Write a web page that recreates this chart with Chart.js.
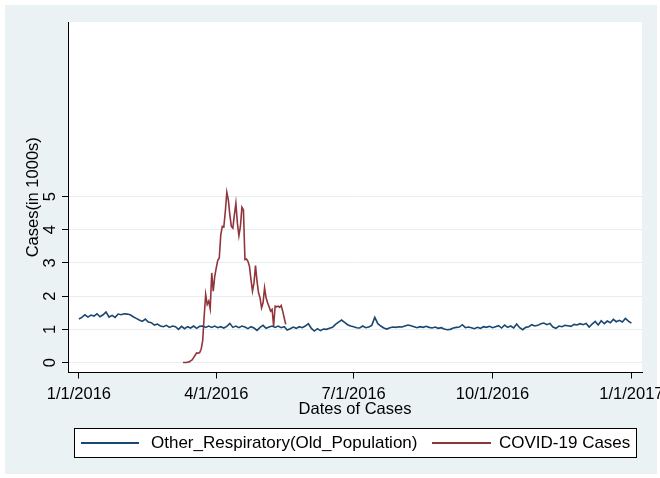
<!DOCTYPE html>
<html>
<head>
<meta charset="utf-8">
<script src="https://cdn.jsdelivr.net/npm/chart.js@4"></script>
<style>
html, body { margin: 0; padding: 0; background: #ffffff; }
#wrap { width: 660px; height: 478px; position: relative; }
canvas { display: block; }
</style>
</head>
<body>
<div id="wrap"><canvas id="c" width="660" height="478"></canvas></div>
<script>
// ---------- data ----------
const seriesLabels = ['Other_Respiratory(Old_Population)', 'COVID-19 Cases'];
const xTitle = 'Dates of Cases';
const yTitle = 'Cases(in 1000s)';
const xTickDays = [0, 91, 182, 274, 366];
const xTickLabels = ['1/1/2016', '4/1/2016', '7/1/2016', '10/1/2016', '1/1/2017'];
const yTicks = [0, 1, 2, 3, 4, 5];

// Other respiratory (old population), in 1000s, one value every 2 days from 1/1/2016
const respStartDay = 0;
const respStepDays = 2;
const respValues = [
  1.31,1.36,1.44,1.37,1.43,1.40,1.47,1.38,1.44,1.52,
  1.37,1.42,1.36,1.46,1.44,1.47,1.46,1.44,1.38,1.33,
  1.28,1.24,1.31,1.22,1.20,1.13,1.16,1.10,1.08,1.12,
  1.06,1.10,1.08,1.00,1.09,1.02,1.08,1.04,1.10,1.03,
  1.09,1.10,1.06,1.10,1.06,1.10,1.05,1.08,1.04,1.09,
  1.18,1.06,1.10,1.05,1.10,1.07,1.02,1.08,1.04,0.97,
  1.06,1.12,1.03,1.07,1.10,1.06,1.10,1.05,1.08,0.98,
  1.02,1.07,1.03,1.08,1.05,1.10,1.17,1.03,0.95,1.02,
  0.96,1.01,1.00,1.03,1.06,1.15,1.22,1.28,1.21,1.14,
  1.10,1.08,1.05,1.04,1.10,1.05,1.07,1.12,1.36,1.17,
  1.10,1.04,1.01,1.05,1.07,1.06,1.08,1.07,1.10,1.13,
  1.11,1.08,1.05,1.08,1.06,1.09,1.06,1.04,1.07,1.03,
  1.05,1.01,0.99,1.00,1.04,1.06,1.07,1.14,1.05,1.07,
  1.05,1.02,1.06,1.03,1.08,1.06,1.09,1.05,1.08,1.11,
  1.04,1.13,1.06,1.10,1.04,1.16,1.05,0.99,1.06,1.08,
  1.14,1.10,1.12,1.17,1.19,1.14,1.18,1.07,1.03,1.10,
  1.08,1.12,1.11,1.09,1.15,1.13,1.17,1.14,1.18,1.07,
  1.16,1.24,1.13,1.26,1.17,1.25,1.20,1.30,1.23,1.27,
  1.22,1.33,1.25,1.19
];

// COVID-19 cases, in 1000s, daily from day 69 (3/10/2016)
const covidStartDay = 69;
const covidValues = [
  0.00,0.00,0.00,0.01,0.02,0.05,0.08,0.15,0.22,0.29,
  0.28,0.30,0.40,0.65,1.40,2.05,1.75,1.85,1.62,2.70,
  2.15,2.60,2.85,3.08,3.15,3.85,4.10,4.08,4.55,5.13,
  4.90,4.45,4.10,4.05,4.45,4.80,4.20,3.82,4.10,4.68,
  4.60,3.10,3.12,3.05,2.90,2.50,2.15,2.40,2.92,2.45,
  2.10,1.95,1.65,1.80,2.25,1.95,1.80,1.68,1.55,1.60,
  1.10,1.70,1.68,1.70,1.66,1.72,1.55,1.35,1.15
];

// ---------- styling ----------
const FONT = "'Liberation Sans', Arial, sans-serif";
const BLUE = '#1a476f';
const RED = '#90353b';
const BG = '#eaf2f3';

const bgPlugin = {
  id: 'stataBg',
  beforeDraw(chart) {
    const ctx = chart.ctx, a = chart.chartArea;
    ctx.save();
    ctx.fillStyle = '#ffffff';
    ctx.fillRect(0, 0, chart.width, chart.height);
    ctx.fillStyle = BG;
    ctx.fillRect(5, 5, chart.width - 8, chart.height - 9);
    ctx.fillStyle = '#ffffff';
    ctx.fillRect(a.left, a.top, a.right - a.left, a.bottom - a.top);
    ctx.restore();
  }
};

const legendPlugin = {
  id: 'stataLegend',
  afterDraw(chart) {
    const ctx = chart.ctx, a = chart.chartArea;
    const w = 562, h = 29;
    const x0 = Math.round((a.left + a.right) / 2 - w / 2);
    const y0 = 428;
    ctx.save();
    ctx.fillStyle = '#ffffff';
    ctx.fillRect(x0, y0, w, h);
    ctx.strokeStyle = '#000000';
    ctx.lineWidth = 1;
    ctx.strokeRect(x0 + 0.5, y0 + 0.5, w, h);
    const cy = y0 + h / 2 + 0.5;
    const offs = [{ l0: 7, l1: 65, t: 77 }, { l0: 358, l1: 417, t: 425 }];
    ctx.font = '17px ' + FONT;
    ctx.textBaseline = 'middle';
    ctx.textAlign = 'left';
    chart.data.datasets.forEach((ds, i) => {
      const o = offs[i];
      ctx.strokeStyle = ds.borderColor;
      ctx.lineWidth = 2;
      ctx.beginPath();
      ctx.moveTo(x0 + o.l0, cy);
      ctx.lineTo(x0 + o.l1, cy);
      ctx.stroke();
      ctx.fillStyle = '#000000';
      ctx.fillText(ds.label, x0 + o.t, cy);
    });
    ctx.restore();
  }
};

const ctx = document.getElementById('c').getContext('2d');
new Chart(ctx, {
  type: 'line',
  data: {
    datasets: [
      {
        label: seriesLabels[0],
        data: respValues.map((v, i) => ({ x: respStartDay + i * respStepDays, y: v })),
        borderColor: BLUE,
        borderWidth: 1.6,
        pointRadius: 0,
        tension: 0,
        fill: false
      },
      {
        label: seriesLabels[1],
        data: covidValues.map((v, i) => ({ x: covidStartDay + i, y: v })),
        borderColor: RED,
        borderWidth: 1.6,
        pointRadius: 0,
        tension: 0,
        fill: false
      }
    ]
  },
  options: {
    responsive: false,
    animation: false,
    devicePixelRatio: 1,
    layout: { padding: { left: 8, top: 22, right: 18, bottom: 59.5 } },
    plugins: { legend: { display: false }, tooltip: { enabled: false } },
    scales: {
      x: {
        type: 'linear',
        min: -7.2,
        max: 373,
        afterBuildTicks: s => { s.ticks = xTickDays.map(v => ({ value: v })); },
        afterFit: s => { s.height = 46; s.paddingLeft = 0; s.paddingRight = 0; },
        ticks: {
          autoSkip: false, minRotation: 0, maxRotation: 0, padding: 7.5,
          color: '#000000',
          font: { family: FONT, size: 16.5, lineHeight: 1 },
          callback: v => { const k = xTickDays.indexOf(v); return k >= 0 ? xTickLabels[k] : ''; }
        },
        grid: { drawOnChartArea: false, drawTicks: true, tickLength: 6, tickColor: '#000000', tickWidth: 1 },
        border: { display: true, color: '#000000', width: 1 },
        title: {
          display: true, text: xTitle, color: '#000000',
          font: { family: FONT, size: 16.5, lineHeight: 1 },
          padding: { top: 0, bottom: 1.25 }
        }
      },
      y: {
        type: 'linear',
        min: -0.3,
        max: 10.26,
        afterBuildTicks: s => { s.ticks = yTicks.map(v => ({ value: v })); },
        afterFit: s => { s.width = 60; s.paddingTop = 0; s.paddingBottom = 0; },
        ticks: {
          minRotation: 90, maxRotation: 90, crossAlign: 'center', padding: 7.4,
          color: '#000000',
          font: { family: FONT, size: 16.5, lineHeight: 1 },
          callback: v => String(v)
        },
        grid: { color: '#e6eef0', lineWidth: 1, drawTicks: true, tickLength: 6, tickColor: '#000000', tickWidth: 1 },
        border: { display: true, color: '#000000', width: 1 },
        title: {
          display: true, text: yTitle, color: '#000000',
          font: { family: FONT, size: 16.5, lineHeight: 1 },
          padding: { top: 16.75, bottom: 0 }
        }
      }
    }
  },
  plugins: [bgPlugin, legendPlugin]
});
</script>
</body>
</html>
